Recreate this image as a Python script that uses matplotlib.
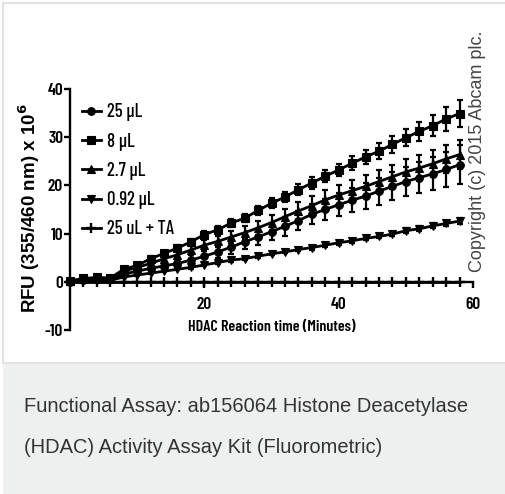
import matplotlib
matplotlib.use('Agg')
import matplotlib.pyplot as plt
from matplotlib import font_manager
from matplotlib.patches import Rectangle

# condensed face for the Prism-style ticks/legend, Arial-like for the rest
names = {f.name for f in font_manager.fontManager.ttflist}
narrow = 'Liberation Sans'
for cand in ['Barlow Condensed', 'Asap Condensed', 'Archivo Narrow', 'Liberation Sans Narrow']:
    if cand in names:
        narrow = cand
        break
plt.rcParams['font.family'] = ['Liberation Sans', 'DejaVu Sans']
plt.rcParams['axes.unicode_minus'] = False

# time points (minutes)
minutes = list(range(0, 60, 2))

# series values, RFU x 10^6
rfu_25ul = [0.0, 0.4, 0.6, 0.5, 1.6, 2.2, 2.8, 3.3, 3.8, 4.5, 5.3, 6.2, 7.2, 8.3, 9.3,
            10.4, 11.5, 12.7, 14.0, 15.0, 16.0, 16.9, 17.8, 18.8, 19.8, 20.8, 21.6, 22.4, 23.3, 24.3]
rfu_8ul = [0.2, 0.7, 0.9, 0.8, 2.6, 3.4, 4.8, 5.9, 7.0, 8.3, 9.8, 10.8, 12.2, 13.2, 14.8,
           16.3, 17.6, 19.1, 20.5, 21.9, 23.2, 24.6, 25.9, 27.1, 28.5, 29.9, 31.2, 32.4, 33.8, 34.9]
rfu_2_7ul = [0.1, 0.5, 0.7, 0.6, 2.2, 3.0, 3.8, 4.8, 5.6, 6.6, 7.6, 8.4, 9.3, 10.2, 11.2,
             12.3, 13.5, 14.7, 15.8, 17.0, 18.0, 18.9, 19.8, 20.8, 21.8, 22.8, 23.6, 24.5, 25.5, 26.4]
rfu_0_92ul = [0.0, 0.3, 0.4, 0.3, 1.0, 1.4, 1.8, 2.2, 2.6, 3.0, 3.5, 4.0, 4.5, 4.8, 5.3,
              5.8, 6.2, 6.7, 7.1, 7.6, 8.1, 8.5, 9.0, 9.4, 9.9, 10.6, 11.0, 11.6, 12.1, 12.6]
rfu_ta = [0.0] * 30

# error bars (SD)
err_25ul = [0.2, 0.3, 0.3, 0.3, 0.5, 0.6, 0.7, 0.8, 0.9, 1.0, 1.1, 1.2, 1.4, 1.5, 1.6,
            1.8, 1.9, 2.0, 2.1, 2.2, 2.4, 2.5, 2.6, 2.8, 2.9, 3.0, 3.2, 3.4, 3.6, 4.0]
err_8ul = [0.3, 0.3, 0.3, 0.3, 0.4, 0.4, 0.5, 0.5, 0.6, 0.6, 0.7, 0.7, 0.8, 0.8, 0.9,
           1.0, 1.0, 1.1, 1.2, 1.2, 1.3, 1.4, 1.5, 1.6, 1.7, 1.8, 2.0, 2.2, 2.5, 2.8]
err_2_7ul = [0.2, 0.3, 0.3, 0.3, 0.5, 0.6, 0.7, 0.8, 0.9, 1.0, 1.1, 1.2, 1.3, 1.4, 1.5,
             1.6, 1.7, 1.8, 1.9, 2.0, 2.1, 2.2, 2.3, 2.4, 2.5, 2.6, 2.7, 2.8, 2.9, 3.1]
err_0_92ul = [0.1, 0.1, 0.1, 0.1, 0.2, 0.2, 0.2, 0.2, 0.2, 0.3, 0.3, 0.3, 0.3, 0.3, 0.3,
              0.3, 0.3, 0.4, 0.4, 0.4, 0.4, 0.4, 0.4, 0.4, 0.5, 0.5, 0.5, 0.5, 0.5, 0.6]

labels = ['25 \u00b5L', '8 \u00b5L', '2.7 \u00b5L', '0.92 \u00b5L', '25 uL + TA']
series = [rfu_25ul, rfu_8ul, rfu_2_7ul, rfu_0_92ul, rfu_ta]
errors = [err_25ul, err_8ul, err_2_7ul, err_0_92ul, None]
markers = ['o', 's', '^', 'v', '+']
msizes = [5.5, 5.5, 5.5, 5.5, 7]

W, H = 505, 494
fig = plt.figure(figsize=(W / 100, H / 100), dpi=100)
fig.patch.set_facecolor('white')

# card background + caption strip
fig.patches.append(Rectangle((3 / W, 0), 1, (H - 363) / H, transform=fig.transFigure,
                             facecolor='#eeefef', edgecolor='none', zorder=-2))
fig.patches.append(Rectangle((3 / W, (H - 363) / H), 1, 360 / H, transform=fig.transFigure,
                             facecolor='white', edgecolor='#e2e2e2', linewidth=1.5, zorder=-1))

ax = fig.add_axes([70 / W, 1 - 330 / H, (473 - 70) / W, (330 - 89) / H])
ax.set_facecolor('none')

for vals, err, mk, ms, lab in zip(series, errors, markers, msizes, labels):
    ax.plot(minutes, vals, color='black', marker=mk, markersize=ms,
            markeredgewidth=1.7 if mk == '+' else 0.8, linewidth=2.0, label=lab, clip_on=False)
    if err is not None:
        ax.errorbar(minutes, vals, yerr=err, fmt='none', ecolor='black',
                    elinewidth=1.6, capsize=2.5, capthick=1.6, clip_on=False)

ax.set_xlim(0, 60)
ax.set_ylim(-10, 40)
ax.set_xticks([20, 40, 60])
ax.set_yticks([-10, 0, 10, 20, 30, 40])
ax.spines['top'].set_visible(False)
ax.spines['right'].set_visible(False)
ax.spines['bottom'].set_position(('data', 0))
ax.spines['left'].set_linewidth(1.7)
ax.spines['bottom'].set_linewidth(1.7)
ax.tick_params(width=1.7, length=4, labelsize=12.5, pad=1)
ax.tick_params(axis='x', pad=7)
for t in ax.get_xticklabels() + ax.get_yticklabels():
    t.set_fontfamily(narrow)
    t.set_fontweight(600)

ax.text(30, -9.4, 'HDAC Reaction time (Minutes)', ha='center', va='center',
        fontsize=11.5, fontfamily=narrow, fontweight=600)
fig.text(29 / W, 1 - 208 / H, 'RFU (355/460 nm) x 10$^\\mathbf{6}$', rotation=90,
         ha='center', va='center', fontsize=13.5, fontweight='bold')
fig.text(478 / W, 1 - 151 / H, 'Copyright (c) 2015 Abcam plc.', rotation=90,
         ha='center', va='center', fontsize=13, color='#444444')

leg = ax.legend(loc='upper left', bbox_to_anchor=(0.03, 0.94), frameon=False,
                borderaxespad=0, borderpad=0, handlelength=1.0, handletextpad=0.35,
                labelspacing=0.6, prop={'family': narrow, 'size': 13.5, 'weight': 500})

fig.text(24 / W, 1 - 407 / H, 'Functional Assay: ab156064 Histone Deacetylase',
         ha='left', va='center', fontsize=14.5, color='#333333')
fig.text(24 / W, 1 - 447 / H, '(HDAC) Activity Assay Kit (Fluorometric)',
         ha='left', va='center', fontsize=14.5, color='#333333')

fig.savefig('out.png', dpi=100)
